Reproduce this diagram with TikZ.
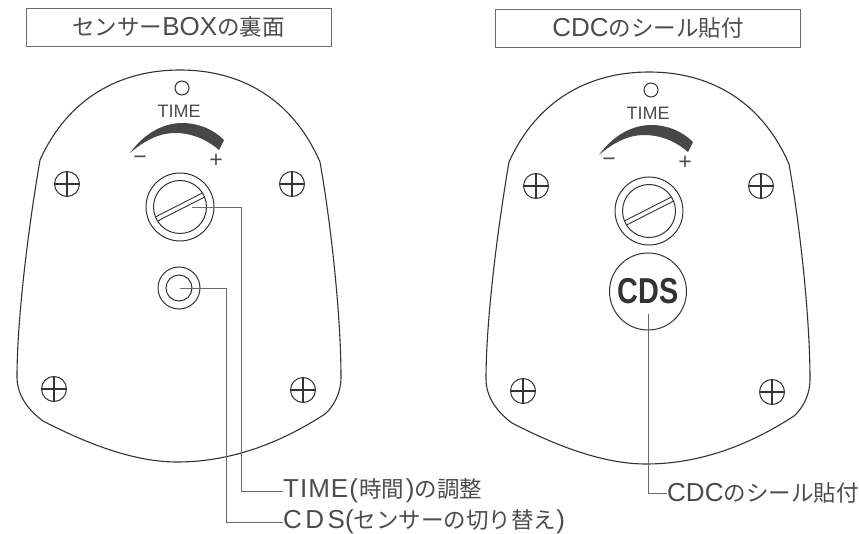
\documentclass[tikz,border=0pt]{standalone}
\usepackage{fontspec}
\setmainfont{Liberation Sans}
\newfontfamily\jpFont{Noto Sans CJK JP}
\usetikzlibrary{positioning}
\definecolor{inkColor}{gray}{0.2}
\definecolor{leaderColor}{gray}{0.42}
\definecolor{textColor}{gray}{0.3}
\tikzstyle{sheet} = [x = 1pt, y = -1pt]
\tikzstyle{outlineStyle} = [color=inkColor, line width=1.1pt]
\tikzstyle{ringStyle} = [draw=inkColor, circle, inner sep=0, line width=1pt]
\tikzstyle{screwStyle} = [ringStyle, minimum size=25pt]
\tikzstyle{crossLine} = [color=inkColor, line width=1.2pt]
\tikzstyle{slotLine} = [color=inkColor, line width=.9pt]
\tikzstyle{leaderLine} = [color=leaderColor, line width=.9pt]
\tikzstyle{titleBox} = [draw=leaderColor, line width=.9pt, minimum width=305pt, minimum height=38pt, inner sep=0, text=textColor, font=\jpFont\fontsize{22.5}{22.5}\selectfont]
\tikzstyle{calloutText} = [anchor=west, inner sep=0, text=textColor, font=\jpFont\fontsize{22.5}{22.5}\selectfont]
\tikzstyle{dialText} = [inner sep=0, text=textColor, font=\fontsize{18}{18}\selectfont]
\tikzstyle{signText} = [inner sep=0, text=textColor, font=\fontsize{23}{23}\selectfont]
\newcommand{\latin}[1]{{\rmfamily\fontsize{26}{26}\selectfont #1}}
\newcommand{\screw}[3]{
  \node [screwStyle] (#1) at (#2, #3) {};
  \draw [crossLine] (#1.north) -- (#1.south);
  \draw [crossLine] (#1.west) -- (#1.east);
}
\newcommand{\sensorBack}[4]{
  \begin{scope}[shift={(#2, #3)}]
    \draw [outlineStyle] (40,160) .. controls (68,98) and (120,70) .. (180,70)
      .. controls (240,70) and (292,98) .. (320,162)
      .. controls (332,230) and (341,320) .. (341,377)
      .. controls (341,395) and (332,408) .. (325,414)
      .. controls (285,440) and (235,462) .. (177,462)
      .. controls (130,462) and (80,440) .. (43,421)
      .. controls (28,410) and (17,395) .. (17,377)
      .. controls (17,320) and (28,230) .. (40,160);
    \screw{#1ScrewA}{67}{184}
    \screw{#1ScrewB}{292}{184}
    \screw{#1ScrewC}{54}{389}
    \screw{#1ScrewD}{303}{390}
    \node [ringStyle, minimum size=14pt] (#1Lamp) at (182, 88) {};
    \node [dialText] (#1Time) at (179, 111) {TIME};
    \fill [color=inkColor!90] (130,153) .. controls (145,132) and (165,123) .. (182,123)
      .. controls (198,123) and (213,129) .. (224,140) -- (219,150)
      .. controls (205,138) and (190,133) .. (175,133)
      .. controls (160,133) and (145,140) .. (130,153);
    \node [signText] (#1Minus) at (140, 160) {\textminus};
    \node [signText] (#1Plus) at (216, 161) {+};
    \node [ringStyle, minimum size=68pt] (#1KnobOuter) at (180, 207 + #4) {};
    \node [ringStyle, minimum size=53pt] (#1Knob) at (180, 207 + #4) {};
    \begin{scope}[shift={(#1Knob.center)}, rotate=27]
      \draw [slotLine] (-25.8,2.3) -- (25.8,2.3);
      \draw [slotLine] (-25.8,-2.3) -- (25.8,-2.3);
    \end{scope}
  \end{scope}
}
\begin{document}
\begin{tikzpicture}[sheet]
  \useasboundingbox (0,0) rectangle (859,534);
  \sensorBack{left}{0}{0}{0}
  \sensorBack{right}{469}{2}{2}
  \node [titleBox] (leftTitle) at (178.5, 27) {センサー\latin{BOX}の裏面};
  \node [titleBox] (rightTitle) at (648, 28) {\latin{CDC}のシール貼付};
  \node [ringStyle, minimum size=42pt] (cdsOuter) at (179, 288) {};
  \node [ringStyle, minimum size=26pt] (cdsInner) at (179, 288) {};
  \node [ringStyle, minimum size=77pt] (cdsSeal) at (648, 291.5) {};
  \node [inner sep=0, text=inkColor, xscale=.8, font=\fontsize{36}{36}\selectfont\bfseries] (cdsText) at (648, 291) {CDS};
  \node [calloutText] (timeLabel) at (283, 491) {\latin{T\kern1pt I\kern1pt M\kern1pt E\kern1pt(}\kern1.5pt 時間\kern1.5pt\latin{)}の調整};
  \node [calloutText] (cdsLabel) at (283, 522) {\latin{C\kern3.5pt D\kern3.5pt S(}センサーの切り替え\latin{)}};
  \node [calloutText] (sealLabel) at (667, 493) {\latin{CDC}のシール貼付};
  \coordinate (timeStart) at (192, 207);
  \coordinate (cdsStart) at (180, 288);
  \coordinate (sealStart) at (648, 314);
  \draw [leaderLine] (timeStart) -| (241, 491) -- (timeLabel.west);
  \draw [leaderLine] (cdsStart) -| (226, 522) -- (cdsLabel.west);
  \draw [leaderLine] (sealStart) |- (sealLabel.west);
\end{tikzpicture}
\end{document}
